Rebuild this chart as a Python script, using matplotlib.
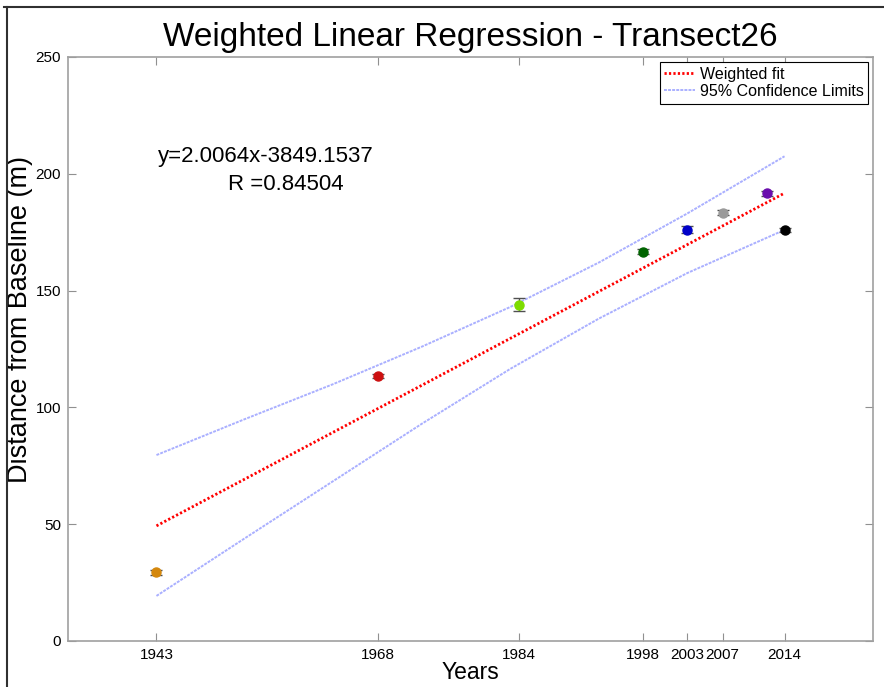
import numpy as np
import matplotlib
matplotlib.use("Agg")
import matplotlib.pyplot as plt
from matplotlib.lines import Line2D

plt.rcParams["font.family"] = ["Liberation Sans", "DejaVu Sans"]

# measured shoreline positions
years = [1943, 1968, 1984, 1998, 2003, 2007, 2012, 2014]
distance = [29.4, 113.4, 144.0, 166.6, 176.1, 183.4, 191.6, 175.9]
errors = [1.0, 0.8, 2.9, 1.0, 1.4, 1.0, 1.0, 1.0]
point_colors = ["#d4870c", "#cc1010", "#7ddc00", "#006400",
                "#0000c8", "#9a9a9a", "#6a0dad", "#000000"]

# weighted fit coefficients (from the annotation)
slope = 2.0064
intercept = -3849.1537
r_value = 0.84504

# 95% confidence limits
ci_years = [1943, 1953, 1963, 1973, 1983, 1993, 2003, 2014]
ci_upper = [79.6, 95.0, 110.0, 126.0, 143.0, 162.0, 183.0, 207.5]
ci_lower = [19.3, 44.0, 68.5, 93.0, 116.5, 138.0, 157.5, 176.0]

tick_years = [1943, 1968, 1984, 1998, 2003, 2007, 2014]

fig = plt.figure(figsize=(8.84, 6.87), dpi=100)
ax = fig.add_axes([68 / 884, 1 - 641 / 687, 805 / 884, 584 / 687])

fit_x = np.array([years[0], years[-1]], dtype=float)
ax.plot(fit_x, slope * fit_x + intercept, color="#ff0000",
        linestyle=(0, (0.8, 0.8)), linewidth=2.0, label="Weighted fit")
ax.plot(ci_years, ci_upper, color="#aab0ff", linestyle=(0, (1.5, 0.6)),
        linewidth=1.4, label="95% Confidence Limits")
ax.plot(ci_years, ci_lower, color="#aab0ff", linestyle=(0, (1.5, 0.6)),
        linewidth=1.4)

for yr, d, e, c in zip(years, distance, errors, point_colors):
    ax.errorbar(yr, d, yerr=e, fmt="o", color=c, markersize=6.5,
                ecolor="#505050", elinewidth=1, capsize=4.5, capthick=1,
                markeredgecolor=c, zorder=3)

ax.set_xlim(1933, 2024)
ax.set_ylim(0, 250)
ax.set_xticks(tick_years)
ax.set_yticks([0, 50, 100, 150, 200, 250])
ax.tick_params(direction="in", length=5.5, width=0.8, color="#909090",
               labelsize=11, top=True, right=True, pad=5)
for sp in ax.spines.values():
    sp.set_color("#a0a0a0")
    sp.set_linewidth(1.2)

ax.set_title("Weighted Linear Regression - Transect26", fontsize=24, pad=8)
ax.set_xlabel("Years", fontsize=16.5, labelpad=-1)
ax.set_ylabel("Distance from Baseline (m)", fontsize=19.5)
ax.yaxis.set_label_coords(-0.043, 0.551)

ax.text(0.112, 0.830, "y=%.4fx%.4f" % (slope, intercept), transform=ax.transAxes,
        fontsize=16, va="center", ha="left")
ax.text(0.199, 0.781, "R =%.5f" % r_value, transform=ax.transAxes,
        fontsize=16, va="center", ha="left")

leg = ax.legend(loc="upper right", fontsize=11.5, handlelength=1.9,
                handletextpad=0.3, borderpad=0.3, borderaxespad=0.3,
                labelspacing=0.15, fancybox=False, framealpha=1)
leg.get_frame().set_edgecolor("#000000")
leg.get_frame().set_linewidth(0.8)

# window border from the screenshot
fig.add_artist(Line2D([7 / 884, 7 / 884], [0, 1 - 7 / 687], color="#303030",
                      linewidth=1.5, transform=fig.transFigure))
fig.add_artist(Line2D([4 / 884, 1], [1 - 7 / 687, 1 - 7 / 687], color="#303030",
                      linewidth=1.5, transform=fig.transFigure))

fig.savefig("out.png", dpi=100)
